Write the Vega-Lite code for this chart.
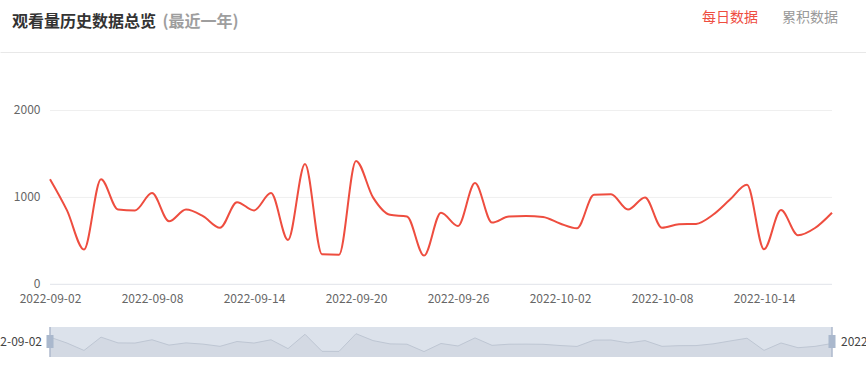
{
  "$schema": "https://vega.github.io/schema/vega-lite/v6.json",
  "width": 866,
  "height": 305,
  "autosize": {"type": "none"},
  "padding": {"left": 0, "top": 52, "right": 0, "bottom": 8},
  "background": "#ffffff",
  "config": {"font": "Noto Sans CJK SC", "view": {"stroke": null}},
  "title": {"text": "观看量历史数据总览", "anchor": "start", "frame": "group", "dx": 12, "offset": -32, "baseline": "alphabetic", "fontSize": 16, "fontWeight": "bold", "color": "#333333", "font": "Noto Sans CJK SC"},
  "datasets": {
    "daily": [
      {"date": "2022-09-02", "views": 1210, "series": "每日数据"},
      {"date": "2022-09-03", "views": 850, "series": "每日数据"},
      {"date": "2022-09-04", "views": 400, "series": "每日数据"},
      {"date": "2022-09-05", "views": 1210, "series": "每日数据"},
      {"date": "2022-09-06", "views": 860, "series": "每日数据"},
      {"date": "2022-09-07", "views": 850, "series": "每日数据"},
      {"date": "2022-09-08", "views": 1050, "series": "每日数据"},
      {"date": "2022-09-09", "views": 725, "series": "每日数据"},
      {"date": "2022-09-10", "views": 860, "series": "每日数据"},
      {"date": "2022-09-11", "views": 785, "series": "每日数据"},
      {"date": "2022-09-12", "views": 650, "series": "每日数据"},
      {"date": "2022-09-13", "views": 945, "series": "每日数据"},
      {"date": "2022-09-14", "views": 850, "series": "每日数据"},
      {"date": "2022-09-15", "views": 1050, "series": "每日数据"},
      {"date": "2022-09-16", "views": 510, "series": "每日数据"},
      {"date": "2022-09-17", "views": 1385, "series": "每日数据"},
      {"date": "2022-09-18", "views": 345, "series": "每日数据"},
      {"date": "2022-09-19", "views": 340, "series": "每日数据"},
      {"date": "2022-09-20", "views": 1420, "series": "每日数据"},
      {"date": "2022-09-21", "views": 1000, "series": "每日数据"},
      {"date": "2022-09-22", "views": 800, "series": "每日数据"},
      {"date": "2022-09-23", "views": 780, "series": "每日数据"},
      {"date": "2022-09-24", "views": 330, "series": "每日数据"},
      {"date": "2022-09-25", "views": 824, "series": "每日数据"},
      {"date": "2022-09-26", "views": 671, "series": "每日数据"},
      {"date": "2022-09-27", "views": 1165, "series": "每日数据"},
      {"date": "2022-09-28", "views": 710, "series": "每日数据"},
      {"date": "2022-09-29", "views": 780, "series": "每日数据"},
      {"date": "2022-09-30", "views": 785, "series": "每日数据"},
      {"date": "2022-10-01", "views": 775, "series": "每日数据"},
      {"date": "2022-10-02", "views": 700, "series": "每日数据"},
      {"date": "2022-10-03", "views": 645, "series": "每日数据"},
      {"date": "2022-10-04", "views": 1030, "series": "每日数据"},
      {"date": "2022-10-05", "views": 1035, "series": "每日数据"},
      {"date": "2022-10-06", "views": 860, "series": "每日数据"},
      {"date": "2022-10-07", "views": 1000, "series": "每日数据"},
      {"date": "2022-10-08", "views": 650, "series": "每日数据"},
      {"date": "2022-10-09", "views": 690, "series": "每日数据"},
      {"date": "2022-10-10", "views": 695, "series": "每日数据"},
      {"date": "2022-10-11", "views": 800, "series": "每日数据"},
      {"date": "2022-10-12", "views": 975, "series": "每日数据"},
      {"date": "2022-10-13", "views": 1145, "series": "每日数据"},
      {"date": "2022-10-14", "views": 403, "series": "每日数据"},
      {"date": "2022-10-15", "views": 855, "series": "每日数据"},
      {"date": "2022-10-16", "views": 565, "series": "每日数据"},
      {"date": "2022-10-17", "views": 648, "series": "每日数据"},
      {"date": "2022-10-18", "views": 824, "series": "每日数据"}
    ],
    "ends": [
      {"date": "2022-09-02", "side": "start", "label": "2022-09-02"},
      {"date": "2022-10-18", "side": "end", "label": "2022-10-18"}
    ],
    "grid": [{"v": 0}, {"v": 1000}, {"v": 2000}]
  },
  "layer": [
    {
      "layer": [
        {
          "data": {"name": "grid"},
          "mark": {"type": "rule", "strokeWidth": 1},
          "encoding": {
            "y": {"field": "v", "type": "quantitative"},
            "x": {"datum": {"year": 2022, "month": 9, "date": 2, "utc": true}, "type": "temporal"},
            "x2": {"datum": {"year": 2022, "month": 10, "date": 18, "utc": true}},
            "stroke": {"condition": {"test": "datum.v === 0", "value": "#e0e3e9"}, "value": "#efefef"}
          }
        },
        {
          "data": {"name": "daily"},
          "mark": {"type": "line", "interpolate": "monotone", "strokeWidth": 2},
          "encoding": {
            "x": {
              "field": "date", "type": "temporal",
              "scale": {"type": "utc", "domain": [{"year": 2022, "month": 8, "date": 30, "hours": 1, "minutes": 24, "seconds": 42, "utc": true}, {"year": 2022, "month": 10, "date": 20, "utc": true}]},
              "axis": {
                "values": [
                  {"year": 2022, "month": 9, "date": 2, "utc": true},
                  {"year": 2022, "month": 9, "date": 8, "utc": true},
                  {"year": 2022, "month": 9, "date": 14, "utc": true},
                  {"year": 2022, "month": 9, "date": 20, "utc": true},
                  {"year": 2022, "month": 9, "date": 26, "utc": true},
                  {"year": 2022, "month": 10, "date": 2, "utc": true},
                  {"year": 2022, "month": 10, "date": 8, "utc": true},
                  {"year": 2022, "month": 10, "date": 14, "utc": true}
                ],
                "format": "%Y-%m-%d", "offset": -72.7, "domain": false, "ticks": false, "grid": false,
                "labelPadding": 9, "labelColor": "#666666", "labelFontSize": 12, "labelFlush": false, "labelOverlap": false, "title": null
              }
            },
            "y": {
              "field": "views", "type": "quantitative",
              "scale": {"domain": [-836.6, 2673.2], "nice": false, "zero": false},
              "axis": {
                "values": [0, 1000, 2000], "format": "d", "offset": -50, "domain": false, "ticks": false, "grid": false,
                "labelPadding": 10, "labelOffset": -1, "labelColor": "#666666", "labelFontSize": 12,
                "title": "(最近一年)", "titleAngle": 0, "titleX": 112, "titleY": -26, "titleAlign": "left", "titleBaseline": "alphabetic",
                "titleFontSize": 16, "titleFontWeight": "bold", "titleColor": "#9e9e9e"
              }
            },
            "color": {
              "field": "series", "type": "nominal",
              "scale": {"domain": ["每日数据", "累积数据"], "range": ["#ee4d3f", "#999999"]},
              "legend": {
                "orient": "none", "legendX": 688, "legendY": -41, "direction": "horizontal", "title": null,
                "symbolSize": 0, "symbolStrokeWidth": 0, "symbolOpacity": 0, "labelOffset": 0, "columnPadding": 10,
                "labelFontSize": 14, "labelFont": "Noto Sans CJK SC", "labelLimit": 200, "padding": 0,
                "labelColor": {"expr": "datum.value === '每日数据' ? '#ee4d3f' : '#999999'"}
              }
            }
          }
        }
      ]
    },
    {
      "layer": [
        {
          "data": {"name": "ends"},
          "transform": [{"filter": {"field": "side", "equal": "start"}}],
          "mark": {"type": "rect", "color": "#dce2eb"},
          "encoding": {
            "x": {"datum": {"year": 2022, "month": 9, "date": 2, "utc": true}, "type": "temporal"},
            "x2": {"datum": {"year": 2022, "month": 10, "date": 18, "utc": true}},
            "y": {"datum": 0, "type": "quantitative"},
            "y2": {"datum": 1829}
          }
        },
        {
          "data": {"name": "daily"},
          "mark": {"type": "area", "color": "#cfd6e0", "line": {"color": "#bec6d3", "strokeWidth": 1}},
          "encoding": {
            "x": {"field": "date", "type": "temporal"},
            "y": {
              "field": "views", "type": "quantitative",
              "scale": {"domain": [0, 18598], "nice": false, "zero": false},
              "axis": {"orient": "right", "values": [18598], "grid": true, "gridColor": "#e8e8e8", "labels": false, "ticks": false, "domain": false, "title": null}
            }
          }
        },
        {
          "data": {"name": "ends"},
          "mark": {"type": "rule", "color": "#aeb9cc", "strokeWidth": 1.5},
          "encoding": {
            "x": {"field": "date", "type": "temporal"},
            "y": {"datum": 0, "type": "quantitative"},
            "y2": {"datum": 1829}
          }
        },
        {
          "data": {"name": "ends"},
          "mark": {"type": "point", "shape": "M-0.54,-1H0.54V1H-0.54Z", "size": 169, "filled": true, "color": "#aab8cd", "opacity": 1},
          "encoding": {
            "x": {"field": "date", "type": "temporal"},
            "y": {"datum": 945, "type": "quantitative"}
          }
        },
        {
          "data": {"name": "ends"},
          "transform": [{"filter": {"field": "side", "equal": "start"}}],
          "mark": {"type": "text", "align": "right", "baseline": "middle", "dx": -8, "fontSize": 12, "color": "#444444"},
          "encoding": {
            "x": {"field": "date", "type": "temporal"},
            "y": {"datum": 945, "type": "quantitative"},
            "text": {"field": "label", "type": "nominal"}
          }
        },
        {
          "data": {"name": "ends"},
          "transform": [{"filter": {"field": "side", "equal": "end"}}],
          "mark": {"type": "text", "align": "left", "baseline": "middle", "dx": 9, "fontSize": 12, "color": "#444444"},
          "encoding": {
            "x": {"field": "date", "type": "temporal"},
            "y": {"datum": 945, "type": "quantitative"},
            "text": {"field": "label", "type": "nominal"}
          }
        }
      ]
    }
  ],
  "resolve": {"scale": {"y": "independent"}}
}
